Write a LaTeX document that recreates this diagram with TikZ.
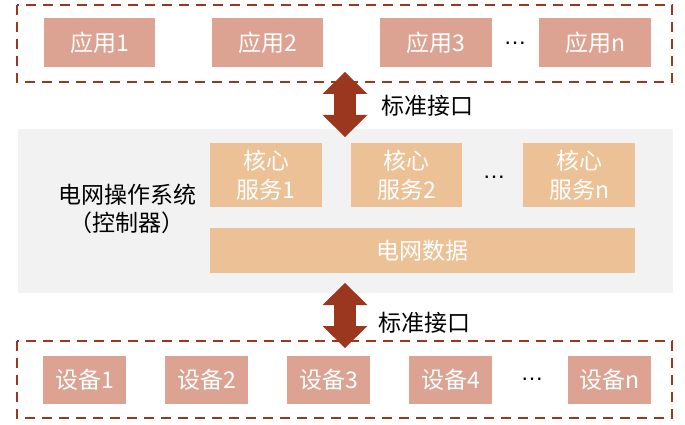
\documentclass[tikz,border=0pt]{standalone}
\usepackage{fontspec}
\setmainfont{Liberation Sans}
\newfontfamily\cjk{Noto Sans CJK SC}
\usetikzlibrary{arrows.meta}

\definecolor{rust}{RGB}{155,55,30}
\definecolor{salmon}{RGB}{221,163,146}
\definecolor{apricot}{RGB}{237,193,150}
\definecolor{panel}{RGB}{242,242,242}

\tikzset{
	tagbox/.style={fill=#1, text=white, inner sep=0pt, anchor=north west,
		font=\cjk\fontsize{23}{29}\selectfont, align=center},
	zone/.style={draw=rust, line width=2.2pt, dash pattern=on 10pt off 7pt},
	iface/.style={rust, line width=22pt,
		{Triangle[width=45pt,length=22pt,line width=0pt]}-{Triangle[width=45pt,length=22pt,line width=0pt]}},
	ifacelabel/.style={anchor=west, inner sep=0pt, font=\cjk\fontsize{23}{28}\selectfont},
	dotsep/.style={anchor=base, inner sep=0pt, font=\fontsize{23}{28}\selectfont}
}

% name, x, y, width, height, text, fill
\newcommand{\pbox}[7]{
	\node[tagbox=#7, minimum width=#4pt, minimum height=#5pt] (#1) at (#2,#3) {#6};
}

\begin{document}
\begin{tikzpicture}[x=1pt,y=-1pt]
\useasboundingbox (0,0) rectangle (685,425);

\pgfmathsetmacro{\rowApp}{18}
\pgfmathsetmacro{\rowCore}{143}
\pgfmathsetmacro{\rowData}{228}
\pgfmathsetmacro{\rowDev}{356}

% controller panel and the two zones
\fill[panel] (17.5,129) rectangle (673,293);
\draw[zone] (17,5) rectangle (672,82);
\draw[zone] (17,341) rectangle (672,418);

% applications
\pbox{app1}{44}{\rowApp}{111}{49}{应用1}{salmon}
\pbox{app2}{212}{\rowApp}{111}{49}{应用2}{salmon}
\pbox{app3}{380}{\rowApp}{112}{49}{应用3}{salmon}
\pbox{appn}{539}{\rowApp}{112}{49}{应用n}{salmon}
\node[dotsep] (appdots) at (515,44.5) {…};

% grid operating system
\node[font=\cjk\fontsize{23}{28}\selectfont, align=center, inner sep=0pt] (os) at (127,209) {电网操作系统\\（控制器）};
\pbox{core1}{210}{\rowCore}{112}{64}{核心\\服务1}{apricot}
\pbox{core2}{351}{\rowCore}{111}{64}{核心\\服务2}{apricot}
\pbox{coren}{523}{\rowCore}{112}{64}{核心\\服务n}{apricot}
\node[dotsep] (coredots) at (494,178.5) {…};
\pbox{data}{210}{\rowData}{425}{45}{电网数据}{apricot}

% devices
\pbox{dev1}{43}{\rowDev}{83}{48}{设备1}{salmon}
\pbox{dev2}{165}{\rowDev}{83}{48}{设备2}{salmon}
\pbox{dev3}{287}{\rowDev}{83}{48}{设备3}{salmon}
\pbox{dev4}{409}{\rowDev}{83}{48}{设备4}{salmon}
\pbox{devn}{568}{\rowDev}{83}{48}{设备n}{salmon}
\node[dotsep] (devdots) at (532,380.5) {…};

% standard interfaces
\coordinate (upA) at (345,72);
\coordinate (upB) at (345,137);
\coordinate (dnA) at (345,283);
\coordinate (dnB) at (345,348);
\draw[iface] (upA) -- (upB);
\draw[iface] (dnA) -- (dnB);
\node[ifacelabel] (upif) at (381,106) {标准接口};
\node[ifacelabel] (dnif) at (378,323) {标准接口};
\end{tikzpicture}
\end{document}
